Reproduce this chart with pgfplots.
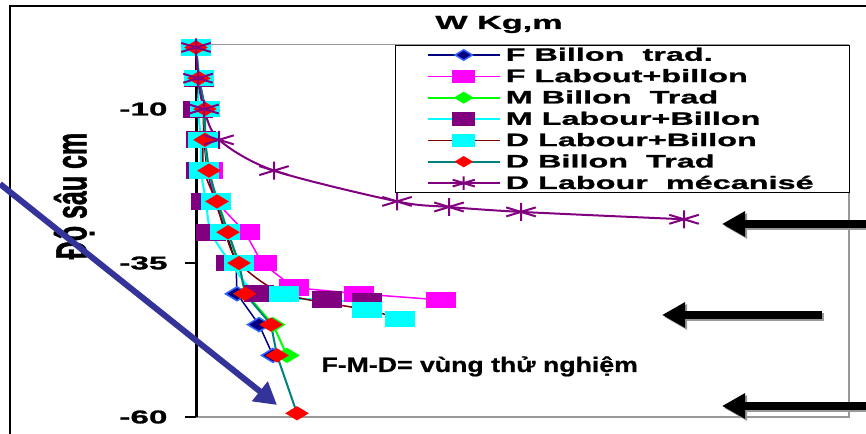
\documentclass[border=0pt]{standalone}
\usepackage{fontspec}
\setmainfont{Liberation Sans}[BoldFeatures={FakeBold=1.2}]
\newfontfamily\wfont[FakeStretch=1.8, BoldFeatures={FakeBold=1.2}]{Liberation Sans}
\newfontfamily\tfont[FakeStretch=1.27, BoldFeatures={FakeBold=0.8}]{Liberation Sans}
\usepackage{graphicx}
\usepackage{pgfplots}
\pgfplotsset{compat=1.18}
\usetikzlibrary{arrows.meta}
\definecolor{cnavy}{RGB}{0,0,128}
\definecolor{cblue}{RGB}{51,102,255}
\definecolor{cmag}{RGB}{255,0,255}
\definecolor{clime}{RGB}{0,255,0}
\definecolor{cpurp}{RGB}{128,0,128}
\definecolor{ccyan}{RGB}{0,255,255}
\definecolor{cbrown}{RGB}{128,0,0}
\definecolor{cteal}{RGB}{0,128,128}
\definecolor{cred}{RGB}{255,0,0}
\definecolor{carrow}{RGB}{51,51,153}
\begin{document}
\begin{tikzpicture}[x=1bp,y=1bp]
\useasboundingbox (0,0) rectangle (866,434);
% outer frame
\draw[black, line width=2bp] (10,0) -- (10,428) -- (866,428);
% axis title
\node[anchor=base, font=\wfont\bfseries\fontsize{19bp}{19bp}\selectfont] at (499,405) {W Kg,m};
% y label
\node at (74,238) {\scalebox{1.75}[1]{\rotatebox{90}{\fontsize{25bp}{25bp}\selectfont\bfseries Độ sâu cm}}};
\begin{axis}[
  at={(196bp,17bp)}, anchor=south west,
  width=653bp, height=372bp, scale only axis,
  xmin=0, xmax=653, ymin=-60, ymax=0.4,
  xtick=\empty, ytick={-60,-35,-10}, yticklabels={-60,-35,-10},
  axis line style={draw=none},
  tick align=outside, ytick pos=left, major tick length=11bp,
  every tick/.style={black, line width=2bp},
  yticklabel style={font=\wfont\bfseries\fontsize{18.5bp}{18.5bp}\selectfont, xshift=-14bp},
  clip=false,
  legend cell align=left,
  legend image code/.code={\draw[mark repeat=2,mark phase=2,#1] plot coordinates {(0bp,0bp) (36bp,0bp) (72bp,0bp)};},
  legend image post style={every mark/.append style={scale=0.75}},
  legend style={at={(0.3047,1)}, anchor=north west, draw=black, line width=1.5bp, fill=white,
    font=\wfont\bfseries\fontsize{18bp}{20bp}\selectfont,
    inner xsep=31bp, inner ysep=0.5bp, row sep=3.8bp,
    nodes={inner xsep=5bp, inner ysep=1.5bp},
    /tikz/every even column/.append style={column sep=3bp}},
]
\draw[gray!80, line width=1bp] (rel axis cs:0,1) -- (rel axis cs:1,1);
\draw[gray!80, line width=2bp] (rel axis cs:0,0) -- (rel axis cs:1,0) -- (rel axis cs:1,1);
\draw[black, line width=3bp] (rel axis cs:0,0) -- (rel axis cs:0,1);

\addplot[cnavy, line width=1.5bp, mark=diamond*, mark size=7, mark options={solid, xscale=2.2, fill=cnavy, draw=cblue, line width=1.5bp}]
 coordinates {(0,0)(3,-5)(7,-10)(8,-15)(11,-20)(19,-25)(30,-30)(40,-35)(41,-40)(63,-45)(77,-50)};
\addlegendentry{F Billon\ \ trad.}
\addplot[cmag, line width=1.5bp, mark=square*, mark size=7.5, mark options={solid, xscale=1.9, fill=cmag, draw=cmag}]
 coordinates {(0,0)(3,-5)(9,-10)(9,-15)(12,-20)(20,-25)(49,-30)(66,-35)(98,-39)(163,-40)(245,-41)};
\addlegendentry{F Labout+billon}
\addplot[clime, line width=2bp, mark=diamond*, mark size=6.5, mark options={solid, xscale=2.2, fill=clime, draw=clime}]
 coordinates {(0,0)(3,-5)(8,-10)(9,-15)(12,-20)(22,-25)(32,-30)(42,-35)(50,-40)(77,-45)(91,-50)};
\addlegendentry{M Billon\ \ Trad}
\addplot[ccyan, line width=2bp, smooth, mark=square*, mark size=7.5, mark options={solid, xscale=1.9, fill=cpurp, draw=cpurp}]
 coordinates {(0,0)(3,-5)(2,-10)(5,-15)(5,-20)(10,-25)(15,-30)(35,-35)(63,-40)(131,-41)(171,-41.3)};
\addlegendentry{M Labour+Billon}
\addplot[cbrown, line width=1.5bp, smooth, mark=square*, mark size=7.5, mark options={solid, xscale=1.9, fill=ccyan, draw=ccyan}]
 coordinates {(0,0)(3,-5)(9,-10)(7,-15)(8,-20)(20,-25)(29,-30)(43,-35)(88,-40)(171,-42.6)(204,-44.1)};
\addlegendentry{D Labour+Billon}
\addplot[cteal, line width=2bp, mark=diamond*, mark size=6, mark options={solid, xscale=2.2, fill=cred, draw=cred}]
 coordinates {(0,0)(3,-5)(9,-10)(9,-15)(13,-20)(21,-25)(32,-30)(43,-35)(49,-40)(75,-45)(81,-50)(101,-59.4)};
\addlegendentry{D Billon\ \ Trad}
\addplot[cpurp, line width=2bp, smooth, mark=asterisk, mark size=9, mark options={solid, xscale=1.9, draw=cpurp, line width=2bp}]
 coordinates {(0,0)(2,-5)(8,-10)(23,-15)(78,-20)(201,-25)(253,-25.9)(325,-26.7)(488,-27.9)};
\addlegendentry{D Labour\ \ mécanisé}
\end{axis}
% annotation text
\node[anchor=base west, font=\tfont\bfseries\fontsize{21bp}{21bp}\selectfont] at (318,62) {F-M-D= vùng thử nghiệm};
% arrows
\draw[carrow, line width=6bp, -{Triangle[length=22bp, width=24bp]}] (0,250) -- (277,29);
\draw[black!40, line width=8bp, -{Triangle[length=23bp, width=24bp]}] (868,208) -- (724,208);
\draw[black, line width=8bp, -{Triangle[length=23bp, width=24bp]}] (866,210) -- (722,210);
\draw[black!40, line width=8bp, -{Triangle[length=23bp, width=24bp]}] (824,117) -- (664,117);
\draw[black, line width=8bp, -{Triangle[length=23bp, width=24bp]}] (822,119) -- (662,119);
\draw[black!40, line width=8bp, -{Triangle[length=23bp, width=24bp]}] (868,26) -- (724,26);
\draw[black, line width=8bp, -{Triangle[length=23bp, width=24bp]}] (866,28) -- (722,28);
\end{tikzpicture}
\end{document}
